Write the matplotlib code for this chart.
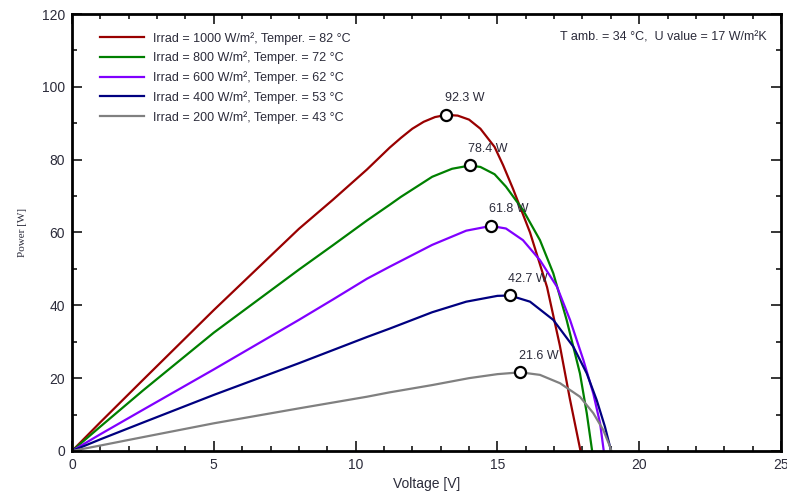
import matplotlib
matplotlib.use("Agg")
import matplotlib.pyplot as plt
from matplotlib.ticker import MultipleLocator

# P-V curves (voltage in V, power in W)
v_1000 = [0, 1.0, 2.5, 5.0, 8.0, 9.2, 10.4, 11.2, 11.6, 12.0, 12.4, 12.8, 13.2, 13.6, 14.0, 14.4, 14.9, 15.2, 15.55, 16.15, 16.75, 17.2, 17.55, 17.93]
p_1000 = [0, 7.9, 19.5, 38.7, 61.0, 69.0, 77.3, 83.3, 86.0, 88.5, 90.4, 91.7, 92.3, 92.1, 91.0, 88.5, 83.5, 78.5, 72.0, 60.0, 45.0, 29.0, 14.5, 0]

v_800 = [0, 1, 2.5, 5, 8.0, 9.2, 10.4, 11.2, 11.6, 12.7, 13.4, 14.03, 14.4, 14.9, 15.3, 15.9, 16.5, 16.97, 17.44, 17.91, 18.15, 18.34]
p_800 = [0, 6.7, 16.6, 32.5, 49.8, 56.5, 63.3, 67.6, 69.8, 75.3, 77.5, 78.4, 78.0, 76.0, 72.6, 66.2, 57.9, 48.8, 36.0, 21.3, 10.4, 0]

v_600 = [0, 1, 2.5, 5, 8.0, 9.2, 10.4, 11.2, 11.6, 12.7, 13.9, 14.77, 15.3, 15.9, 16.5, 17.1, 17.56, 18.03, 18.38, 18.62, 18.75]
p_600 = [0, 4.6, 11.3, 22.4, 36.0, 41.6, 47.3, 50.6, 52.2, 56.6, 60.5, 61.8, 61.1, 57.9, 52.4, 45.1, 36.0, 25.0, 15.8, 7.6, 0]

v_400 = [0, 1, 2.5, 5, 8, 9.2, 10.4, 11.2, 11.6, 12.7, 13.9, 15.0, 15.44, 16.15, 16.97, 17.68, 18.15, 18.5, 18.79, 18.97, 19.0]
p_400 = [0, 3.2, 7.8, 15.4, 24.1, 27.7, 31.3, 33.6, 34.8, 38.1, 41.0, 42.6, 42.7, 41.0, 36.0, 28.6, 21.3, 14.0, 6.7, 1.2, 0]

v_200 = [0, 1, 2.5, 5, 8, 10.4, 11.2, 12.7, 14.0, 15.0, 15.81, 16.5, 17.21, 17.91, 18.38, 18.73, 18.97, 19.02]
p_200 = [0, 1.5, 3.8, 7.6, 11.7, 14.9, 16.1, 18.1, 20.0, 21.1, 21.6, 20.9, 18.6, 14.9, 10.4, 5.8, 1.2, 0]

labels = ["Irrad = 1000 W/m², Temper. = 82 °C",
          "Irrad = 800 W/m², Temper. = 72 °C",
          "Irrad = 600 W/m², Temper. = 62 °C",
          "Irrad = 400 W/m², Temper. = 53 °C",
          "Irrad = 200 W/m², Temper. = 43 °C"]
colors = ["#990000", "#008000", "#8000ff", "#000080", "#808080"]

mpp_v = [13.2, 14.03, 14.77, 15.44, 15.81]
mpp_p = [92.3, 78.4, 61.8, 42.7, 21.6]

curves = [(v_1000, p_1000), (v_800, p_800), (v_600, p_600), (v_400, p_400), (v_200, p_200)]

plt.rcParams['font.family'] = ['Liberation Sans', 'DejaVu Sans']
txt_col = "#2b2b3a"

fig = plt.figure(figsize=(7.87, 4.97), dpi=100)
ax = fig.add_axes([0.0915, 0.0926, 0.9009, 0.8792])

for (v, p), lab, c in zip(curves, labels, colors):
    ax.plot(v, p, color=c, lw=1.6, label=lab)

ax.plot(mpp_v, mpp_p, 'o', ms=8, mfc='white', mec='black', mew=1.6, ls='none', zorder=5)
for v, p in zip(mpp_v, mpp_p):
    ax.annotate(f"{p:.1f} W", (v, p), xytext=(13, 12), textcoords='offset points',
                ha='center', va='center', fontsize=9, color=txt_col)

ax.set_xlim(0, 25)
ax.set_ylim(0, 120)
ax.xaxis.set_major_locator(MultipleLocator(5))
ax.xaxis.set_minor_locator(MultipleLocator(1))
ax.yaxis.set_major_locator(MultipleLocator(20))
ax.yaxis.set_minor_locator(MultipleLocator(10))
ax.tick_params(which='both', direction='in', top=True, right=True, width=1.1,
               labelsize=10, labelcolor=txt_col, pad=5)
ax.tick_params(which='major', length=7)
ax.tick_params(which='minor', length=3.6)
for s in ax.spines.values():
    s.set_linewidth(2)

ax.set_xlabel("Voltage [V]", fontsize=10, color=txt_col, labelpad=4)
ax.set_ylabel("Power [W]", fontsize=8, color=txt_col, family='Liberation Serif', labelpad=11)

ax.legend(loc='upper left', bbox_to_anchor=(0.0395, 0.959), frameon=False, fontsize=9,
          handlelength=3.5, handletextpad=0.7, labelspacing=0.55, borderpad=0,
          borderaxespad=0, labelcolor=txt_col)
ax.text(0.980, 0.947, "T amb. = 34 °C,  U value = 17 W/m²K", transform=ax.transAxes,
        ha='right', va='center', fontsize=9, color=txt_col)

fig.savefig("out.png", dpi=100)
